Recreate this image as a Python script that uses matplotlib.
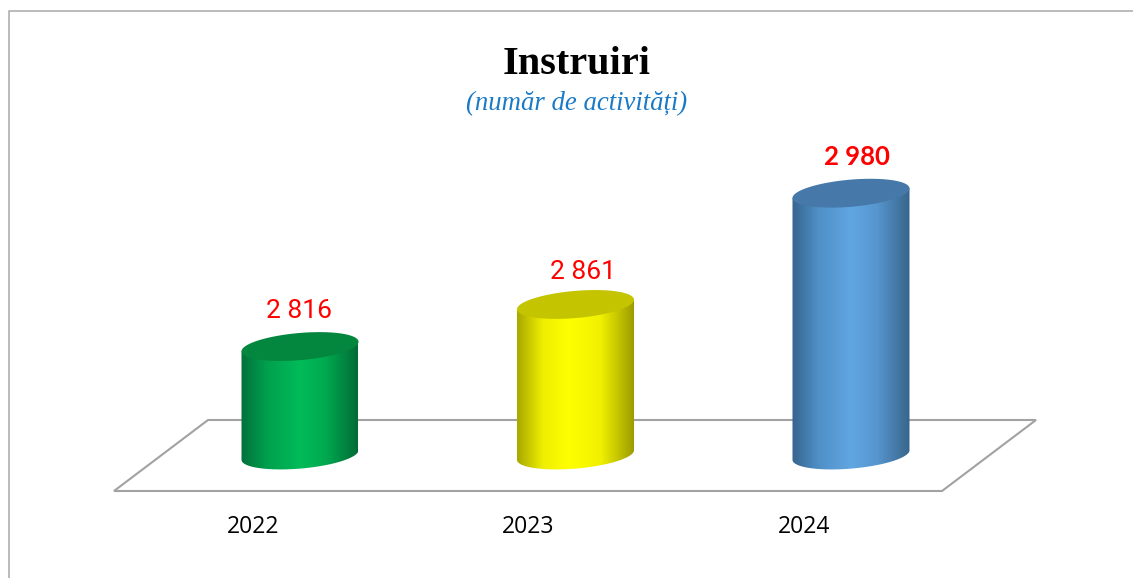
import numpy as np
import matplotlib
matplotlib.use("Agg")
import matplotlib.pyplot as plt
from matplotlib.colors import LinearSegmentedColormap
from matplotlib.patches import Polygon
from matplotlib.lines import Line2D

years = ["2022", "2023", "2024"]
values = [2816, 2861, 2980]
value_labels = ["2 816", "2 861", "2 980"]
title = "Instruiri"
subtitle = "(număr de activități)"

W, H = 1133, 578
BASE = 2700
PX_PER_X = 275.5
PX_PER_Y = 0.935
X0_PX, BASE_PX = 300.0, 455.0

side_stops = [
    [(0, "#02703a"), (0.22, "#00a04e"), (0.5, "#00bb58"), (0.72, "#00aa50"), (1, "#026c36")],
    [(0, "#a8a800"), (0.22, "#eeee00"), (0.45, "#ffff00"), (0.72, "#f0f000"), (1, "#9c9c00")],
    [(0, "#36648e"), (0.22, "#4f8fc6"), (0.5, "#60a6e2"), (0.72, "#5796cf"), (1, "#38658c")],
]
top_colors = ["#03873f", "#c4c400", "#4679a9"]
label_families = ["Roboto", "Roboto", "Lato"]
label_weights = ["normal", "normal", "bold"]
label_sizes = [19, 19, 18.5]
label_dx_px = [-1, 7, 6]
label_dy_px = [36, 32, 36]

fig = plt.figure(figsize=(W / 100, H / 100), dpi=100, facecolor="white")
ax = fig.add_axes([0, 0, 1, 1])
xlim = (-X0_PX / PX_PER_X, (W - X0_PX) / PX_PER_X)
ylim = (BASE - (H - BASE_PX) / PX_PER_Y, BASE + BASE_PX / PX_PER_Y)
ax.patch.set_visible(False)
for s in ax.spines.values():
    s.set_visible(False)
ax.set_yticks([])


def px(x, y):
    """Figure pixel (top-left origin) to data coordinates."""
    return (x - X0_PX) / PX_PER_X, BASE + (BASE_PX - y) / PX_PER_Y


# frame and floor
GREY = "#a2a2a2"
fig.add_artist(Line2D([9 / W, 9 / W, 1], [0, 1 - 10.5 / H, 1 - 10.5 / H],
                      color="#a8a8a8", lw=1.1, transform=fig.transFigure))
floor = [px(114, 491), px(208, 420), px(1036, 420), px(942, 491)]
ax.add_patch(Polygon(floor, closed=True, fill=False, ec=GREY, lw=1.5, zorder=1, joinstyle="miter"))

# cylinders
A_PX, B_PX, K_PX = 58.5, 13.6, 4.8
t = np.linspace(0, 2 * np.pi, 241)
for i, (val, stops, top) in enumerate(zip(values, side_stops, top_colors)):
    ex = A_PX * np.cos(t) / PX_PER_X
    ey = (B_PX * np.sin(t) + K_PX * np.cos(t)) / PX_PER_Y
    th = np.linspace(0, np.pi, 121)
    lowx = A_PX * np.cos(th) / PX_PER_X
    lowy = (-B_PX * np.sin(th) + K_PX * np.cos(th)) / PX_PER_Y
    xs = np.concatenate([i + lowx, i + lowx[::-1]])
    ys = np.concatenate([BASE + lowy, val + (K_PX * np.cos(th[::-1])) / PX_PER_Y])
    body = Polygon(np.column_stack([xs, ys]), closed=True, fc="none", ec="none",
                   transform=ax.transData)
    ax.add_patch(body)
    cmap = LinearSegmentedColormap.from_list(f"c{i}", stops)
    im = ax.imshow(np.linspace(0, 1, 256)[None, :], cmap=cmap, aspect="auto",
                   extent=(i - A_PX / PX_PER_X, i + A_PX / PX_PER_X, BASE - 30, val + 30),
                   zorder=2, interpolation="bilinear")
    im.set_clip_path(body)
    ax.fill(i + ex, val + ey, color=top, lw=0, zorder=3)
    ax.annotate(value_labels[i], (i, val),
                xytext=(label_dx_px[i] * 0.72, label_dy_px[i] * 0.72),
                textcoords="offset points", ha="center", va="center",
                color="#ff0000", fontsize=label_sizes[i], fontweight=label_weights[i],
                family=label_families[i], zorder=4)

ax.set_xlim(xlim)
ax.set_ylim(ylim)

# category axis (labels sit at the front of the 3-D floor)
ax.set_xticks(np.arange(len(years)) - 47 / PX_PER_X)
ax.set_xticklabels(years, fontsize=16.5, family="Open Sans", color="black")
ax.tick_params(axis="x", length=0, pad=-(578 - 515) * 0.72)

fig.text(577 / W, 1 - 64 / H, title, ha="center", va="center", family="Liberation Serif",
         fontweight="bold", fontsize=29, color="black")
fig.text(577 / W, 1 - 104 / H, subtitle, ha="center", va="center", family="Liberation Serif",
         style="italic", fontsize=19.3, color="#1b7ac6")

fig.savefig("out.png", dpi=100, facecolor="white")
